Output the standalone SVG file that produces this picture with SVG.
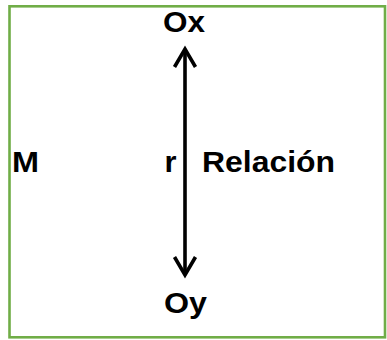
<svg xmlns="http://www.w3.org/2000/svg" width="387" height="340" viewBox="0 0 387 340">
<style>
.t{font-family:"Liberation Sans",Arial,sans-serif;font-weight:bold;font-size:29px;fill:#000}
.c{fill:none;stroke:#000;stroke-width:3.6}
</style>
<rect x="0" y="0" width="387" height="340" fill="#fff"/>
<g id="frame"><rect x="9.5" y="6.3" width="375.5" height="331" fill="none" stroke="#70AD47" stroke-width="2.6"/></g>
<g id="connectors">
<line class="c" x1="185" y1="50" x2="185" y2="274"/>
<polyline class="c" points="174.5,67 185,49 195.5,67" stroke-linejoin="miter"/>
<polyline class="c" points="174.5,257 185,275 195.5,257" stroke-linejoin="miter"/>
</g>
<g id="Ox"><text class="t" x="163" y="32" textLength="42" lengthAdjust="spacingAndGlyphs">Ox</text></g>
<g id="Oy"><text class="t" x="164" y="313" textLength="43" lengthAdjust="spacingAndGlyphs">Oy</text></g>
<g id="M"><text class="t" x="12" y="172" textLength="27" lengthAdjust="spacingAndGlyphs">M</text></g>
<g id="r"><text class="t" x="164.5" y="172" textLength="12" lengthAdjust="spacingAndGlyphs">r</text></g>
<g id="Relacion"><text class="t" x="202" y="172" textLength="133" lengthAdjust="spacingAndGlyphs">Relación</text></g>
</svg>
